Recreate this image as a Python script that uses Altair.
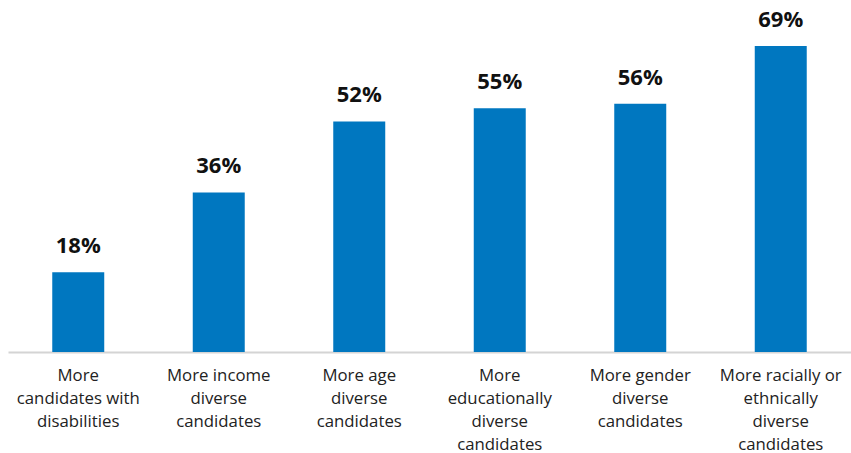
import altair as alt
import pandas as pd

categories = [
    "More|candidates with|disabilities",
    "More income|diverse|candidates",
    "More age|diverse|candidates",
    "More|educationally|diverse|candidates",
    "More gender|diverse|candidates",
    "More racially or|ethnically|diverse|candidates",
]
values = [18, 36, 52, 55, 56, 69]
labels = ["18%", "36%", "52%", "55%", "56%", "69%"]

df = pd.DataFrame({"cat": categories, "val": values, "lab": labels})

FONT = "Open Sans"

x = alt.X(
    "cat:N",
    sort=categories,
    title=None,
    scale=alt.Scale(paddingInner=0.63, paddingOuter=0.315),
    axis=alt.Axis(
        labelExpr="split(datum.label, '|')",
        labelAngle=0,
        labelFont=FONT,
        labelFontSize=16.8,
        labelColor="#222222",
        labelLineHeight=23,
        labelPadding=23,
        labelBaseline="middle",
        ticks=False,
        domainColor="#d4d4d4",
        domainWidth=2,
        labelLimit=200,
    ),
)
y = alt.Y(
    "val:Q",
    scale=alt.Scale(domain=[0, 79.4], nice=False, zero=True),
    axis=None,
)

bars = alt.Chart(df).mark_bar(color="#0077C0").encode(x=x, y=y)
text = alt.Chart(df).mark_text(
    font=FONT, fontSize=22, fontWeight="bold", color="#111111",
    baseline="bottom", dy=-14,
).encode(x=alt.X("cat:N", sort=categories), y="val:Q", text="lab:N")

chart = (
    alt.layer(bars, text)
    .properties(
        width=843, height=352,
        padding={"left": 8, "top": 0, "right": 0, "bottom": 0},
        background="white",
    )
    .configure_view(strokeWidth=0)
)

chart.save("out.html", embed_options={"renderer": "svg", "actions": False})
